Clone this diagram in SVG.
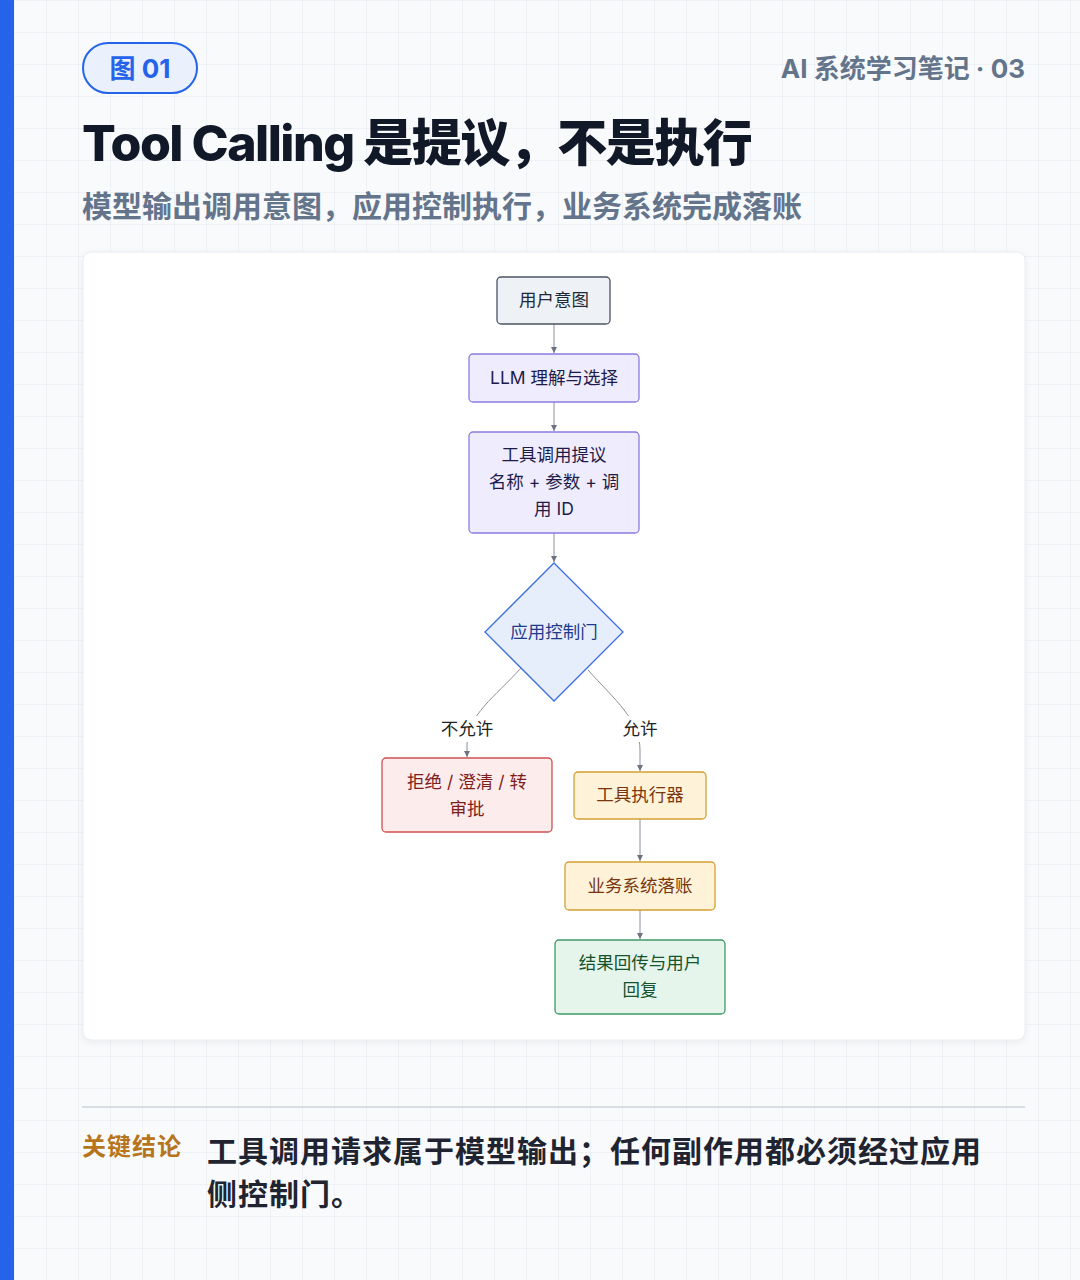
<svg xmlns="http://www.w3.org/2000/svg" width="1080" height="1280" viewBox="0 0 1080 1280">
<defs>
<pattern id="grid" x="14" y="0" width="32" height="32" patternUnits="userSpaceOnUse">
<path d="M0,0 L32,0 M0,0 L0,32" fill="none" stroke="#e3e8ef" stroke-width="1"/>
</pattern>
<filter id="shadow" x="-5%" y="-5%" width="110%" height="110%">
<feDropShadow dx="0" dy="2" stdDeviation="3" flood-color="#0f172a" flood-opacity="0.06"/>
</filter>
<marker id="arr" markerWidth="7" markerHeight="7" refX="6" refY="3" orient="auto" markerUnits="userSpaceOnUse">
<path d="M0,0 L6,3 L0,6 z" fill="#6b7280"/>
</marker>
<style>
.t{font-family:Inter,"Noto Sans CJK SC",sans-serif}
.nt{font-family:Inter,"Noto Sans CJK SC",sans-serif;font-size:17.5px;text-anchor:middle}
.e{fill:none;stroke:#8a909b;stroke-width:1;marker-end:url(#arr)}
</style>
</defs>
<rect width="1080" height="1280" fill="#f8fafc"/>
<rect width="1080" height="1280" fill="url(#grid)"/>
<rect x="0" y="0" width="14" height="1280" fill="#2563eb"/>

<g id="header">
<rect x="83" y="43" width="114" height="50" rx="25" fill="#eaf1fd" stroke="#2563eb" stroke-width="2"/>
<text class="t" x="140" y="78" font-size="26" font-weight="700" fill="#2563eb" text-anchor="middle">图 01</text>
<text class="t" x="1025" y="78" font-size="26" font-weight="700" fill="#64748b" text-anchor="end">AI 系统学习笔记 · 03</text>
<text class="t" x="82" y="161" font-size="50" font-weight="800" fill="#111827" letter-spacing="-1.5">Tool Calling 是提议，不是执行</text>
<text class="t" x="82" y="217" font-size="30" font-weight="700" fill="#64748b">模型输出调用意图，应用控制执行，业务系统完成落账</text>
</g>

<rect x="83" y="252" width="942" height="788" rx="8" fill="#ffffff" stroke="#e8ecf1" stroke-width="1" filter="url(#shadow)"/>

<g id="connectors">
<path class="e" d="M554,324 L554,353"/>
<path class="e" d="M554,402 L554,431"/>
<path class="e" d="M554,533 L554,562"/>
<path class="e" d="M521,668 C495,697 467,715 467,745 L467,757"/>
<path class="e" d="M588,670 C615,700 640,720 640,750 L640,771"/>
<path class="e" d="M640,819 L640,861"/>
<path class="e" d="M640,910 L640,939"/>
<rect x="436" y="716" width="62" height="26" fill="#ffffff"/>
<rect x="618" y="716" width="44" height="26" fill="#ffffff"/>
<text class="nt" x="467" y="735" fill="#222">不允许</text>
<text class="nt" x="640" y="735" fill="#222">允许</text>
</g>

<g id="n1">
<rect x="497" y="277" width="113" height="47" rx="4" fill="#eef1f5" stroke="#4b5563" stroke-width="1.3"/>
<text class="nt" x="554" y="306" fill="#1f2937">用户意图</text>
</g>
<g id="n2">
<rect x="469" y="354" width="170" height="48" rx="4" fill="#efecfd" stroke="#8b7be0" stroke-width="1.3"/>
<text class="nt" x="554" y="384" fill="#1e1b4b">LLM 理解与选择</text>
</g>
<g id="n3">
<rect x="469" y="432" width="170" height="101" rx="4" fill="#efecfd" stroke="#8b7be0" stroke-width="1.3"/>
<text class="nt" x="554" y="461" fill="#1e1b4b">工具调用提议</text>
<text class="nt" x="554" y="488" fill="#1e1b4b">名称 + 参数 + 调</text>
<text class="nt" x="554" y="515" fill="#1e1b4b">用 ID</text>
</g>
<g id="n4">
<path d="M554,563 L623,632 L554,701 L485,632 Z" fill="#e6eefc" stroke="#3b6fe0" stroke-width="1.3"/>
<text class="nt" x="554" y="638" fill="#1e3a8a">应用控制门</text>
</g>
<g id="n5">
<rect x="382" y="758" width="170" height="74" rx="4" fill="#fdecec" stroke="#d05050" stroke-width="1.3"/>
<text class="nt" x="467" y="788" fill="#7f1d1d">拒绝 / 澄清 / 转</text>
<text class="nt" x="467" y="815" fill="#7f1d1d">审批</text>
</g>
<g id="n6">
<rect x="574" y="772" width="132" height="47" rx="4" fill="#fef3d9" stroke="#d4a030" stroke-width="1.3"/>
<text class="nt" x="640" y="801" fill="#78350f">工具执行器</text>
</g>
<g id="n7">
<rect x="565" y="862" width="150" height="48" rx="4" fill="#fef3d9" stroke="#d4a030" stroke-width="1.3"/>
<text class="nt" x="640" y="892" fill="#78350f">业务系统落账</text>
</g>
<g id="n8">
<rect x="555" y="940" width="170" height="74" rx="4" fill="#e6f5ec" stroke="#3f9a66" stroke-width="1.3"/>
<text class="nt" x="640" y="969" fill="#14532d">结果回传与用户</text>
<text class="nt" x="640" y="996" fill="#14532d">回复</text>
</g>

<g id="footer">
<line x1="82" y1="1107" x2="1025" y2="1107" stroke="#d8dde3" stroke-width="2"/>
<text class="t" x="82" y="1155" font-size="24" font-weight="700" fill="#b7741a" letter-spacing="1">关键结论</text>
<text class="t" x="207" y="1162" font-size="30" font-weight="700" fill="#1f2430" letter-spacing="1">工具调用请求属于模型输出；任何副作用都必须经过应用</text>
<text class="t" x="207" y="1205" font-size="30" font-weight="700" fill="#1f2430" letter-spacing="1">侧控制门。</text>
</g>
</svg>
